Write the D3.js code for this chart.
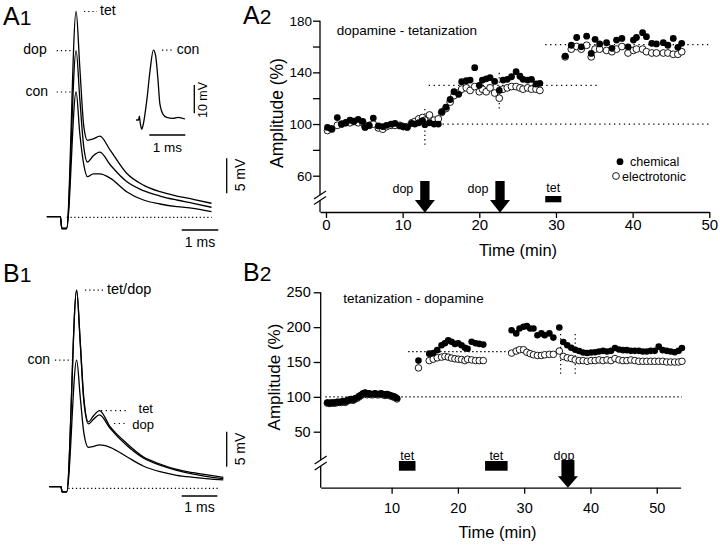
<!DOCTYPE html>
<html>
<head>
<meta charset="utf-8">
<script src="https://d3js.org/d3.v7.min.js"></script>
<style>
  body { margin: 0; background: #fff; }
  svg text { font-family: "Liberation Sans", Arial, Helvetica, sans-serif; fill: #000; }
  .axis path, .axis line { stroke: #000; stroke-width: 1.3px; }
  .trace { fill: none; stroke: #000; stroke-width: 1.3px; }
</style>
</head>
<body>
<svg id="fig" width="720" height="548"></svg>
<script>
// ---------- A1 traces (time in ms, voltage in mV) ----------
const a1Time = [-0.45,-0.08,-0.04,0.09,0.35,0.45,0.56,0.66,0.82,1.0,1.28,1.73,2.19,2.64,3.1,3.55,4.05];
const a1Tet  = [0.1,0.1,-1.6,-1.6,29.4,21.5,13,11.0,11.2,11.6,9.6,6.3,4.6,3.66,3.04,2.57,2.0];
const a1Dop  = [0.1,0.1,-1.6,-1.6,23.8,17,10,7.9,8.8,9.3,7.5,5.1,3.8,3.04,2.47,2.0,1.43];
const a1Con  = [0.1,0.1,-1.6,-1.6,17.9,12,7.5,5.8,6.2,6.2,5.6,3.66,2.47,1.9,1.51,1.29,0.8];

const insetTime = [-0.09,-0.02,0,0.03,0.07,0.1,0.21,0.3,0.39,0.45,0.52,0.57,0.67,0.76,0.94,1.08,1.27];
const insetCon  = [-0.6,-0.6,0.8,-2,-3.9,-2.7,6.5,17,24.1,22.4,13.5,5.3,1.2,0.35,0,0.35,-0.25];

// ---------- B1 traces ----------
const b1Time = [-0.35,-0.02,0.01,0.14,0.42,0.52,0.62,0.75,0.9,1.06,1.36,1.83,2.29,2.76,3.23,3.7,4.54];
const b1Tet  = [0.23,0.23,-0.5,-0.5,28.3,20.9,13,9.5,10.4,11.1,8.8,6.4,4.5,3.47,2.7,2.23,1.57];
const b1Dop  = [0.23,0.23,-0.5,-0.5,28.3,20.9,12.5,9.2,9.9,10.5,8.57,6.1,4.33,3.3,2.57,2.04,1.37];
const b1Con  = [0.23,0.23,-0.5,-0.5,18.3,13.1,8,5.86,6.0,6.2,5.86,4.5,3.19,2.37,1.86,1.57,1.19];

// ---------- A2 amplitude time course ----------
const a2Time = [0.2,0.74,1.48,2.04,2.6,3.13,3.65,4.2,4.8,5.1,5.65,6.17,6.83,7.4,7.9,8.5,9.0,9.65,10.1,10.6,
  11.2,11.6,12.1,12.6,12.9,13.5,14.1,14.65,15.1,15.65,16.2,16.7,17.3,17.7,18.3,18.8,19.4,20.0,20.4,20.9,
  21.4,22.0,22.6,23.1,23.65,24.2,24.8,25.3,25.7,26.3,26.8,27.4,27.9,
  31.2,32.0,32.7,33.3,34.0,34.6,35.1,35.7,36.6,37.3,37.9,38.6,39.4,40.1,40.5,41.3,41.8,42.5,43.1,44.0,
  44.6,45.3,45.9,46.4];
const a2Chemical = [97.4,96.4,105,100,101,103,102,103.6,102,97.4,99,104.6,98.5,98,99,100,100.5,98.5,98,97.4,
  100.5,100,101,102.6,99.5,101,100,100,109.5,113,119,125,123,132.8,133.5,134,143.6,130,134,135,
  136,133,126,134,134.6,136.6,140.5,137,134.6,134,134.6,131,131.5,
  152.6,161,167,159.8,168,154.7,165.6,162,163,158.6,165,166.3,159.8,165,167,170.7,167.6,162.5,162,163,
  161,166.3,159.4,162.5];
const a2Electrotonic = [95,96,99,100,101,101,102,101,101,98,99,100,97,96,98,99,99,99,98,98,
  101,102,104,105,103,107,103,104,109,112,117,122,124,127,128,126,129,125,127,125,
  128,124,120,127,128,129,129,128,127,128,127,127,126,
  152,158,160,158,161,152,158,158,157,156,158,160,155,157,158,158,156,155,155,155,
  155,154,154,156];
const a2YTicks = [60,80,100,120,140,160,180];
const a2XTicks = [0,10,20,30,40,50];
const a2DopArrows = [12.9, 22.7];
const a2TetBars = [[28.6, 30.7]];
const a2Levels = [{v:100, from:15.2, to:50}, {v:130, from:13.4, to:35.3}, {v:161.5, from:28.6, to:50}];
const a2Marks = [{t:12.9, lo:84, hi:113}, {t:22.6, lo:112, hi:142}];

// ---------- B2 amplitude time course ----------
const b2Time = [0.3,0.6,0.9,1.2,1.5,1.8,2.1,2.4,2.7,3.0,3.3,3.6,3.9,4.2,4.5,4.8,5.1,5.4,5.7,6.0,
  6.3,6.6,6.9,7.2,7.5,7.8,8.1,8.4,8.7,9.0,9.3,9.6,9.9,10.2,10.5,10.8,
  14.05,15.67,16.27,16.88,17.53,18.04,18.54,19.04,19.55,20.05,20.55,21.06,21.46,22.07,22.67,23.22,23.83,
  28.1,28.8,29.3,29.9,30.4,30.9,31.4,32.0,32.6,33.1,33.8,34.4,35.3,
  35.9,36.5,37.1,37.7,38.3,38.9,39.5,40.1,40.7,41.3,41.9,42.5,43.1,43.7,44.3,44.9,45.5,46.1,46.7,47.3,
  47.9,48.5,49.1,49.7,50.3,50.9,51.5,52.1,52.7,53.3,53.8];
const b2Chemical = [92,91,92,91.5,92,93,92.5,93,94,93,95,96,97,96,98,99,101,103,105,106,
  104,105,104,104,105,104,104,105,104,103,104,103,102,101,100,98,
  152,162,163,167,174,177,181,179,176,177,174,170.5,169,179,177,176,175,
  195.6,191,198,200.5,201.5,198,198,188.4,191,188.4,191,185,199.5,
  178.7,174,170.5,167.6,165.7,163.6,163,163.6,164,165,166,165,166,170,168,167,167,166,166,166,
  165,165,166,166,172,167,166,165,164,166,170];
const b2Electrotonic = [91,90.5,91,91,91,92,92,92,93,92,94,95,96,95,97,98,100,102,104,105,
  103,104,103,103,104,103,103,104,103,102,103,102,101,100,99,97,
  141.5,152,154,156,157,158,157,155.6,154.6,154,153.6,152,154,153,152,152,152,
  162.8,165.7,167.6,167.6,164,162,160.4,159.4,159.4,160.4,161,161,165.7,
  158,156,155,153,152,152,151,152,152,153,152,153,152,155,153,152,152,153,152,151,
  151,151,151,151,151,151,150,150,150,150,151];
const b2YTicks = [50,100,150,200,250];
const b2XTicks = [10,20,30,40,50];
const b2TetBars = [[11.1, 13.6], [24.1, 27.5]];
const b2DopArrows = [36.6];
const b2Levels = [{v:100, from:0, to:53.8}, {v:165, from:12.5, to:28}];
const b2Marks = [{t:35.5, lo:133, hi:190}, {t:37.7, lo:133, hi:190}];

const svg = d3.select("#fig");

function dotLine(g, x1, y1, x2, y2, dash) {
  g.append("line").attr("x1", x1).attr("y1", y1).attr("x2", x2).attr("y2", y2)
    .attr("stroke", "#000").attr("stroke-width", 1.2).attr("stroke-dasharray", dash);
}
function solid(g, x1, y1, x2, y2, w) {
  g.append("line").attr("x1", x1).attr("y1", y1).attr("x2", x2).attr("y2", y2)
    .attr("stroke", "#000").attr("stroke-width", w || 1.3);
}
function txt(g, x, y, s, size, anchor, baseline) {
  return g.append("text").attr("x", x).attr("y", y).attr("font-size", size)
    .attr("text-anchor", anchor || "start")
    .attr("dominant-baseline", baseline || "auto").text(s);
}
function vtxt(g, x, y, s, size) {
  return g.append("text").attr("transform", `translate(${x},${y}) rotate(-90)`)
    .attr("font-size", size).attr("text-anchor", "middle").text(s);
}
function panelLabel(x, y, letter, digit) {
  const t = svg.append("text").attr("x", x).attr("y", y).attr("font-size", 25).text(letter);
  t.append("tspan").attr("font-size", 21).text(digit);
}
function arrowPath(cx, top, tip, shaftW, headW, headH) {
  const s = shaftW / 2, h = headW / 2, hb = tip - headH;
  return `M${cx - s},${top}H${cx + s}V${hb}H${cx + h}L${cx},${tip}L${cx - h},${hb}H${cx - s}Z`;
}
function yBreak(g, x, yTop, yb1, yb2, yBottom) {
  solid(g, x, yTop, x, yb1);
  solid(g, x, yb2, x, yBottom);
  solid(g, x - 6, yb1 + 4, x + 6, yb1 - 4, 1.2);
  solid(g, x - 6, yb2 + 4, x + 6, yb2 - 4, 1.2);
}

// =================== A1 ===================
panelLabel(3, 25, "A", "1");
const gA1 = svg.append("g");
const xA1 = d3.scaleLinear().domain([0, 1]).range([63.3, 99.9]);
const yA1 = d3.scaleLinear().domain([0, 5]).range([217.3, 182.3]);
const lineA1 = d3.line().x(d => xA1(d[0])).y(d => yA1(d[1])).curve(d3.curveMonotoneX);

dotLine(gA1, 66.7, yA1(0), 211.7, yA1(0), "1.2,2.6");
[a1Con, a1Dop, a1Tet].forEach(v => {
  gA1.append("path").attr("class", "trace").attr("d", lineA1(d3.zip(a1Time, v)));
});
// labels with leaders
dotLine(gA1, 84, yA1(d3.max(a1Tet)), 97, yA1(d3.max(a1Tet)), "1.2,3");
txt(gA1, 100, yA1(d3.max(a1Tet)), "tet", 14, "start", "middle");
dotLine(gA1, 56.7, yA1(d3.max(a1Dop)), 71.7, yA1(d3.max(a1Dop)), "1.2,3");
txt(gA1, 46.7, yA1(d3.max(a1Dop)), "dop", 14, "end", "middle");
dotLine(gA1, 56.7, yA1(d3.max(a1Con)), 71.7, yA1(d3.max(a1Con)), "1.2,3");
txt(gA1, 48, yA1(d3.max(a1Con)), "con", 14, "end", "middle");
// scale bars
solid(gA1, 181.7, 230, 181.7 + xA1(1) - xA1(0), 230);
txt(gA1, 200, 247, "1 ms", 14, "middle");
solid(gA1, 226.7, 193.3, 226.7, 193.3 - (yA1(0) - yA1(5)));
vtxt(gA1, 245, 175, "5 mV", 14);

// inset
const xIn = d3.scaleLinear().domain([0, 1]).range([139.3, 175.3]);
const yIn = d3.scaleLinear().domain([0, 10]).range([118.3, 90]);
const lineIn = d3.line().x(d => xIn(d[0])).y(d => yIn(d[1])).curve(d3.curveMonotoneX);
gA1.append("path").attr("class", "trace").attr("stroke-width", 1.5)
  .attr("d", lineIn(d3.zip(insetTime, insetCon)));
dotLine(gA1, 162, yIn(d3.max(insetCon)), 174, yIn(d3.max(insetCon)), "1.2,3");
txt(gA1, 176.7, yIn(d3.max(insetCon)), "con", 14, "start", "middle");
solid(gA1, 149.3, 135, 149.3 + xIn(1) - xIn(0), 135);
txt(gA1, 167.5, 151.7, "1 ms", 13.5, "middle");
solid(gA1, 194.3, 113.3, 194.3, 113.3 - (yIn(0) - yIn(10)));
vtxt(gA1, 207, 100, "10 mV", 12.5);

// =================== B1 ===================
panelLabel(3, 282, "B", "1");
const gB1 = svg.append("g");
const xB1 = d3.scaleLinear().domain([0, 1]).range([61.7, 97.3]);
const yB1 = d3.scaleLinear().domain([0, 5]).range([488.3, 453.3]);
const lineB1 = d3.line().x(d => xB1(d[0])).y(d => yB1(d[1])).curve(d3.curveMonotoneX);
dotLine(gB1, 68.3, yB1(0), 220, yB1(0), "1.2,2.6");
[b1Con, b1Dop, b1Tet].forEach(v => {
  gB1.append("path").attr("class", "trace").attr("stroke-width", 1.1).attr("d", lineB1(d3.zip(b1Time, v)));
});
dotLine(gB1, 85, yB1(d3.max(b1Tet)), 105, yB1(d3.max(b1Tet)), "1.2,3");
txt(gB1, 107, yB1(d3.max(b1Tet)), "tet/dop", 14.5, "start", "middle");
dotLine(gB1, 55, yB1(d3.max(b1Con)), 72, yB1(d3.max(b1Con)), "1.2,3");
txt(gB1, 50, yB1(d3.max(b1Con)), "con", 14, "end", "middle");
dotLine(gB1, 101, yB1(b1Tet[9]), 127, yB1(b1Tet[9]), "1.2,3.5");
txt(gB1, 153, 413, "tet", 13, "end");
dotLine(gB1, 114, 423.5, 126, 423.5, "1.2,3.5");
txt(gB1, 154, 429, "dop", 13, "end");
solid(gB1, 181.7, 496, 181.7 + xB1(1) - xB1(0), 496);
txt(gB1, 199.5, 511.7, "1 ms", 14, "middle");
solid(gB1, 226.7, 466.7, 226.7, 466.7 - (yB1(0) - yB1(5)));
vtxt(gB1, 245, 449, "5 mV", 14);

// =================== A2 ===================
panelLabel(243, 23.5, "A", "2");
const gA2 = svg.append("g");
const xA = d3.scaleLinear().domain([-0.78, 50]).range([320, 709.3]);
const yA = d3.scaleLinear().domain([60, 180]).range([175.7, 20.7]);

gA2.append("g").attr("class", "axis").attr("transform", "translate(0,212)")
  .call(d3.axisBottom(xA).tickValues(a2XTicks).tickSize(6).tickSizeOuter(0).tickPadding(1))
  .call(g => g.selectAll("text").attr("font-size", 15).attr("font-family", null));
gA2.append("g").attr("class", "axis").attr("transform", "translate(320,0)")
  .call(d3.axisLeft(yA).tickValues(a2YTicks).tickSize(7).tickPadding(1)
    .tickFormat(d => (d - 60) % 40 === 0 ? d : ""))
  .call(g => g.select(".domain").remove())
  .call(g => g.selectAll("text").attr("font-size", 13.5).attr("font-family", null));
yBreak(gA2, 320, yA(180), 195, 200.5, 212);

vtxt(gA2, 283, 113, "Amplitude (%)", 17.5);
txt(gA2, 518, 256, "Time (min)", 16.5, "middle");
txt(gA2, 336.7, 35, "dopamine - tetanization", 13.5);

a2Levels.forEach(l => dotLine(gA2, xA(l.from), yA(l.v), xA(l.to), yA(l.v), "1.3,3.6"));
a2Marks.forEach(m => dotLine(gA2, xA(m.t), yA(m.lo), xA(m.t), yA(m.hi), "1.3,3"));

gA2.selectAll("circle.el").data(d3.zip(a2Time, a2Electrotonic)).join("circle")
  .attr("class", "el").attr("cx", d => xA(d[0])).attr("cy", d => yA(d[1])).attr("r", 3.4)
  .attr("fill", "#fff").attr("stroke", "#000").attr("stroke-width", 0.9);
gA2.selectAll("circle.ch").data(d3.zip(a2Time, a2Chemical)).join("circle")
  .attr("class", "ch").attr("cx", d => xA(d[0])).attr("cy", d => yA(d[1])).attr("r", 3.4)
  .attr("fill", "#000");

// legend
gA2.append("circle").attr("cx", 620).attr("cy", 161.7).attr("r", 3.4).attr("fill", "#000");
txt(gA2, 630, 166, "chemical", 12.5);
gA2.append("circle").attr("cx", 616).attr("cy", 176).attr("r", 3.4).attr("fill", "#fff")
  .attr("stroke", "#000").attr("stroke-width", 0.9);
txt(gA2, 622, 180.5, "electrotonic", 12.5);

// events
a2DopArrows.forEach(t => {
  gA2.append("path").attr("d", arrowPath(xA(t), 181, 212.7, 9.3, 20, 12.7)).attr("fill", "#000");
  txt(gA2, xA(t) - 22, 193, "dop", 12.5, "middle");
});
a2TetBars.forEach(b => {
  gA2.append("rect").attr("x", xA(b[0])).attr("y", 196).attr("width", xA(b[1]) - xA(b[0]))
    .attr("height", 6.3).attr("fill", "#000");
  txt(gA2, (xA(b[0]) + xA(b[1])) / 2, 192.3, "tet", 12.5, "middle");
});

// =================== B2 ===================
panelLabel(243, 281, "B", "2");
const gB2 = svg.append("g");
const xB = d3.scaleLinear().domain([-0.7, 53.6]).range([320.7, 680.6]);
const yB = d3.scaleLinear().domain([50, 250]).range([431.7, 292.3]);

gB2.append("g").attr("class", "axis").attr("transform", "translate(0,487.7)")
  .call(d3.axisBottom(xB).tickValues(b2XTicks).tickSize(6).tickSizeOuter(0).tickPadding(9.5))
  .call(g => g.selectAll("text").attr("font-size", 14.5).attr("font-family", null));
gB2.append("g").attr("class", "axis").attr("transform", "translate(320.7,0)")
  .call(d3.axisLeft(yB).tickValues(b2YTicks).tickSize(7).tickPadding(3))
  .call(g => g.select(".domain").remove())
  .call(g => g.selectAll("text").attr("font-size", 14.5).attr("font-family", null));
yBreak(gB2, 320.7, yB(250), 460, 466, 487.7);

vtxt(gB2, 280, 377, "Amplitude (%)", 17);
txt(gB2, 497.5, 538.3, "Time (min)", 16.5, "middle");
txt(gB2, 343.3, 303.3, "tetanization - dopamine", 13.5);

b2Levels.forEach(l => dotLine(gB2, xB(l.from), yB(l.v), xB(l.to), yB(l.v), "1.4,2.6"));
b2Marks.forEach(m => dotLine(gB2, xB(m.t), yB(m.lo), xB(m.t), yB(m.hi), "1.3,3"));

gB2.selectAll("circle.el").data(d3.zip(b2Time, b2Electrotonic)).join("circle")
  .attr("class", "el").attr("cx", d => xB(d[0])).attr("cy", d => yB(d[1])).attr("r", 3.3)
  .attr("fill", "#fff").attr("stroke", "#000").attr("stroke-width", 0.9);
gB2.selectAll("circle.ch").data(d3.zip(b2Time, b2Chemical)).join("circle")
  .attr("class", "ch").attr("cx", d => xB(d[0])).attr("cy", d => yB(d[1])).attr("r", 3.3)
  .attr("fill", "#000");

b2TetBars.forEach(b => {
  gB2.append("rect").attr("x", xB(b[0])).attr("y", 461).attr("width", xB(b[1]) - xB(b[0]))
    .attr("height", 9.7).attr("fill", "#000");
  txt(gB2, (xB(b[0]) + xB(b[1])) / 2, 459.5, "tet", 12.5, "middle");
});
b2DopArrows.forEach(t => {
  gB2.append("path").attr("d", arrowPath(xB(t), 460, 487.7, 13, 20, 11.5)).attr("fill", "#000");
  txt(gB2, xB(t) - 4, 459.5, "dop", 12.5, "middle");
});
</script>
</body>
</html>
